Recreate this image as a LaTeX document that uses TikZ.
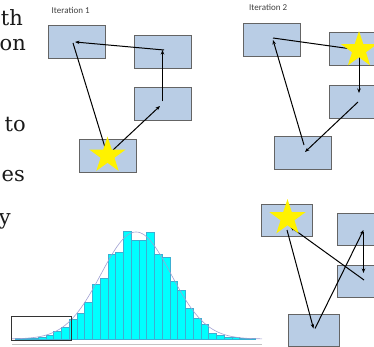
\documentclass[tikz,border=0pt]{standalone}
\usepackage{fontspec}
\newfontfamily\labelfont{Carlito}
\newfontfamily\slidefont{DejaVu Serif}
\usetikzlibrary{shapes.geometric,arrows.meta,calc}
\definecolor{cellfill}{RGB}{185,205,229}
\definecolor{celledge}{RGB}{100,100,100}
\definecolor{barfill}{RGB}{0,255,255}
\definecolor{barline}{RGB}{60,175,210}
\definecolor{fitline}{RGB}{160,160,210}
\definecolor{axisgray}{RGB}{195,195,195}
\tikzset{
  cell/.style={draw=celledge, fill=cellfill, line width=0.9pt, minimum width=57pt, minimum height=33pt, inner sep=0pt},
  smallcell/.style={cell, minimum width=51pt, minimum height=32pt},
  prize/.style={star, star points=5, star point ratio=2.6, fill=yellow, minimum size=38pt, inner sep=0pt},
  hop/.style={draw=black, line width=1pt, -{Stealth[length=4.5pt,width=3.5pt]}},
  iterlabel/.style={font=\labelfont\fontsize{9}{10}\selectfont, text=black!75, anchor=base west, inner sep=0pt},
  cutword/.style={font=\slidefont\fontsize{21}{25}\selectfont, text=black!90, anchor=base east, inner sep=0pt},
  bar/.style={draw=barline, fill=barfill, line width=0.4pt}
}
\begin{document}
\begin{tikzpicture}[x=1pt,y=-1pt]
\useasboundingbox (0,0) rectangle (374,347);
\clip (0,0) rectangle (374,347);
% word ends cut off at the left
\node[cutword] (w1) at (23,26) {th};
\node[cutword] (w2) at (26,51) {on};
\node[cutword] (w3) at (26,132) {to};
\node[cutword] (w4) at (25,182) {es};
\node[cutword] (w5) at (11,224) {y};
% iteration 1
\node[iterlabel] (it1) at (51.5,14) {Iteration 1};
\node[cell] (a1) at (77,42) {};
\node[cell] (b1) at (162.5,51.5) {};
\node[cell] (c1) at (162.5,103.5) {};
\node[cell] (d1) at (107.5,155.5) {};
\draw[hop] ($(d1)+(5.5,-5.5)$) -- ($(c1)+(-2.5,2.5)$);
\draw[hop] ($(c1)+(0,-2)$) -- ($(b1)+(0,-1.5)$);
\draw[hop] ($(b1)+(1.5,-1.5)$) -- ($(a1)+(-2,0)$);
\draw[hop] ($(a1)+(-4,1)$) -- (d1.center);
\node[prize] (s1) at (d1) {};
% iteration 2
\node[iterlabel] (it2) at (249,11) {Iteration 2};
\node[cell] (a2) at (271.5,39.5) {};
\node[cell] (b2) at (357.5,49) {};
\node[cell] (c2) at (357.5,101.5) {};
\node[cell] (d2) at (302.5,153) {};
\draw[hop] ($(a2)+(1.5,-1.5)$) -- ($(b2)+(1.5,1)$);
\draw[hop] ($(b2)+(1.5,1)$) -- ($(c2)+(1.5,-8.5)$);
\draw[hop] ($(c2)+(0.5,0.5)$) -- ($(d2)+(2.5,-1)$);
\draw[hop] ($(d2)+(1.5,-8)$) -- ($(a2)+(1.5,0.5)$);
\node[prize] (s2) at ($(b2)+(1.5,1)$) {};
% iteration 3
\node[smallcell] (a3) at (286.5,220) {};
\node[smallcell] (b3) at (362.5,229.5) {};
\node[smallcell] (c3) at (362.5,281) {};
\node[smallcell] (d3) at (313.5,330.5) {};
\draw[hop] ($(a3)+(0.5,10)$) -- ($(d3)+(0,-2)$);
\draw[hop] ($(d3)+(1.5,-2)$) -- ($(b3)+(1,0.5)$);
\draw[hop] ($(b3)+(1,2)$) -- ($(c3)+(1,-8)$);
\draw[hop] ($(c3)+(1.5,-1)$) -- ($(a3)+(4,7)$);
\node[prize] (s3) at ($(a3)+(1,-2)$) {};
% histogram
\foreach \h [count=\i from 0] in {0.5,0.8,1.2,2.3,4,8,12,20,26,37,55,61,85,87,108,99,99,107,85,82,58,49,31,21,15,6,4,2,2,1,0.5}
  \draw[bar] (14.75+7.75*\i,339) rectangle ++(7.75,-\h);
\draw[fitline, line width=0.6pt] plot[domain=12:262, samples=120] (\x, {339-107*exp(-((\x-136)*(\x-136))/2450)});
\node[draw=black!80, line width=0.8pt, minimum width=60pt, minimum height=24pt, inner sep=0pt] (tail) at (41.7,328) {};
\draw[axisgray, line width=1.2pt] (12,344.5) -- (262,344.5);
\end{tikzpicture}
\end{document}
